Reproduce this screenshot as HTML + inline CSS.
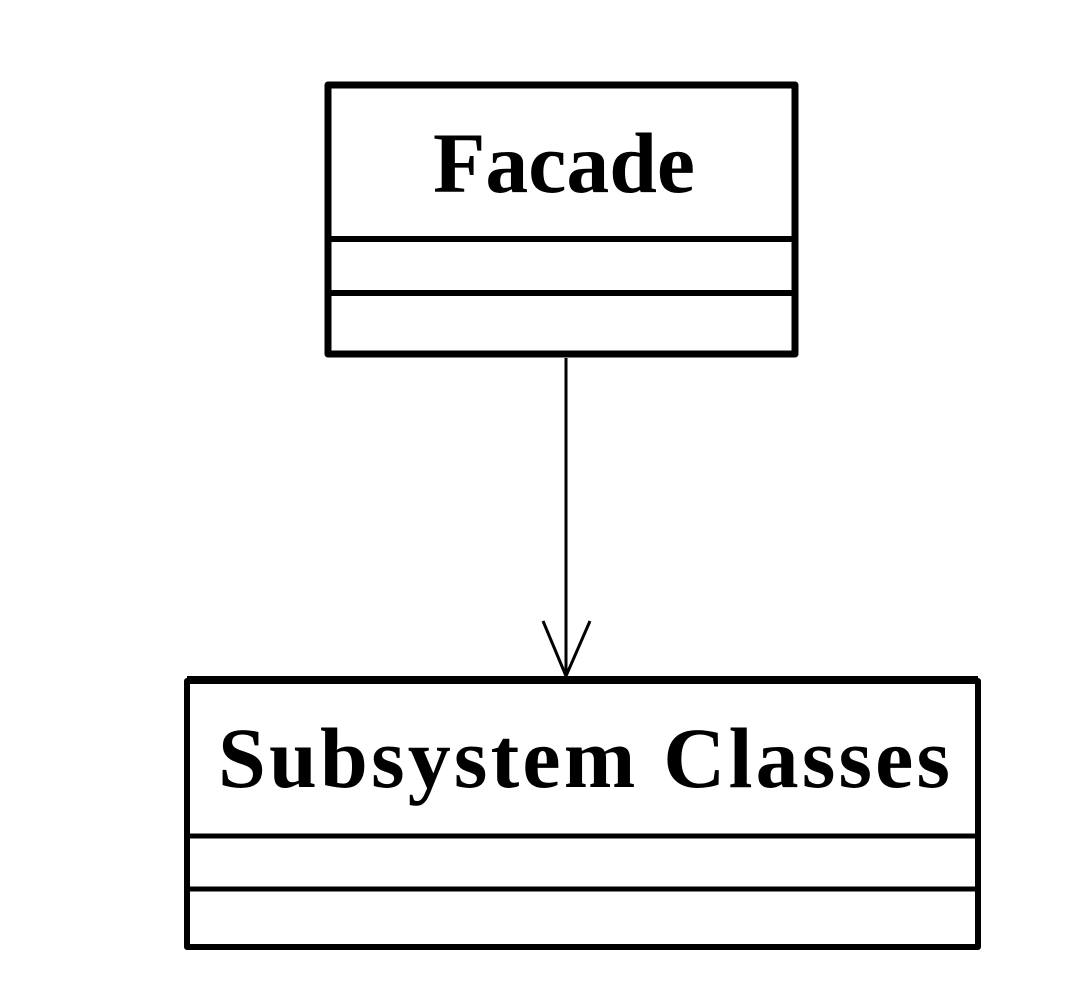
<!DOCTYPE html>
<html><head><meta charset="utf-8"><style>html,body{margin:0;padding:0;background:#fff}</style></head>
<body>
<svg width="1070" height="984" viewBox="0 0 1070 984" xmlns="http://www.w3.org/2000/svg">
<rect width="1070" height="984" fill="#fff"/>
<g fill="none" stroke="#000" stroke-linejoin="round">
<rect x="328" y="85" width="467" height="269" stroke-width="7"/>
<line x1="328" y1="239" x2="795" y2="239" stroke-width="6"/>
<line x1="328" y1="293" x2="795" y2="293" stroke-width="6"/>
<rect x="187" y="681" width="791" height="266" stroke-width="6"/>
<line x1="187" y1="680" x2="978" y2="680" stroke-width="8"/>
<line x1="187" y1="836" x2="978" y2="836" stroke-width="5"/>
<line x1="187" y1="889" x2="978" y2="889" stroke-width="5"/>
<line x1="566" y1="358" x2="566" y2="676" stroke-width="3"/>
<polyline points="543,621 566,676 590,621" stroke-width="3"/>
</g>
<g font-family="'Liberation Serif', serif" font-weight="bold" fill="#000">
<text x="433" y="192" font-size="86" textLength="262" lengthAdjust="spacingAndGlyphs">Facade</text>
<text x="218" y="787" font-size="86" textLength="732" lengthAdjust="spacing">Subsystem Classes</text>
</g>
</svg>
</body></html>
